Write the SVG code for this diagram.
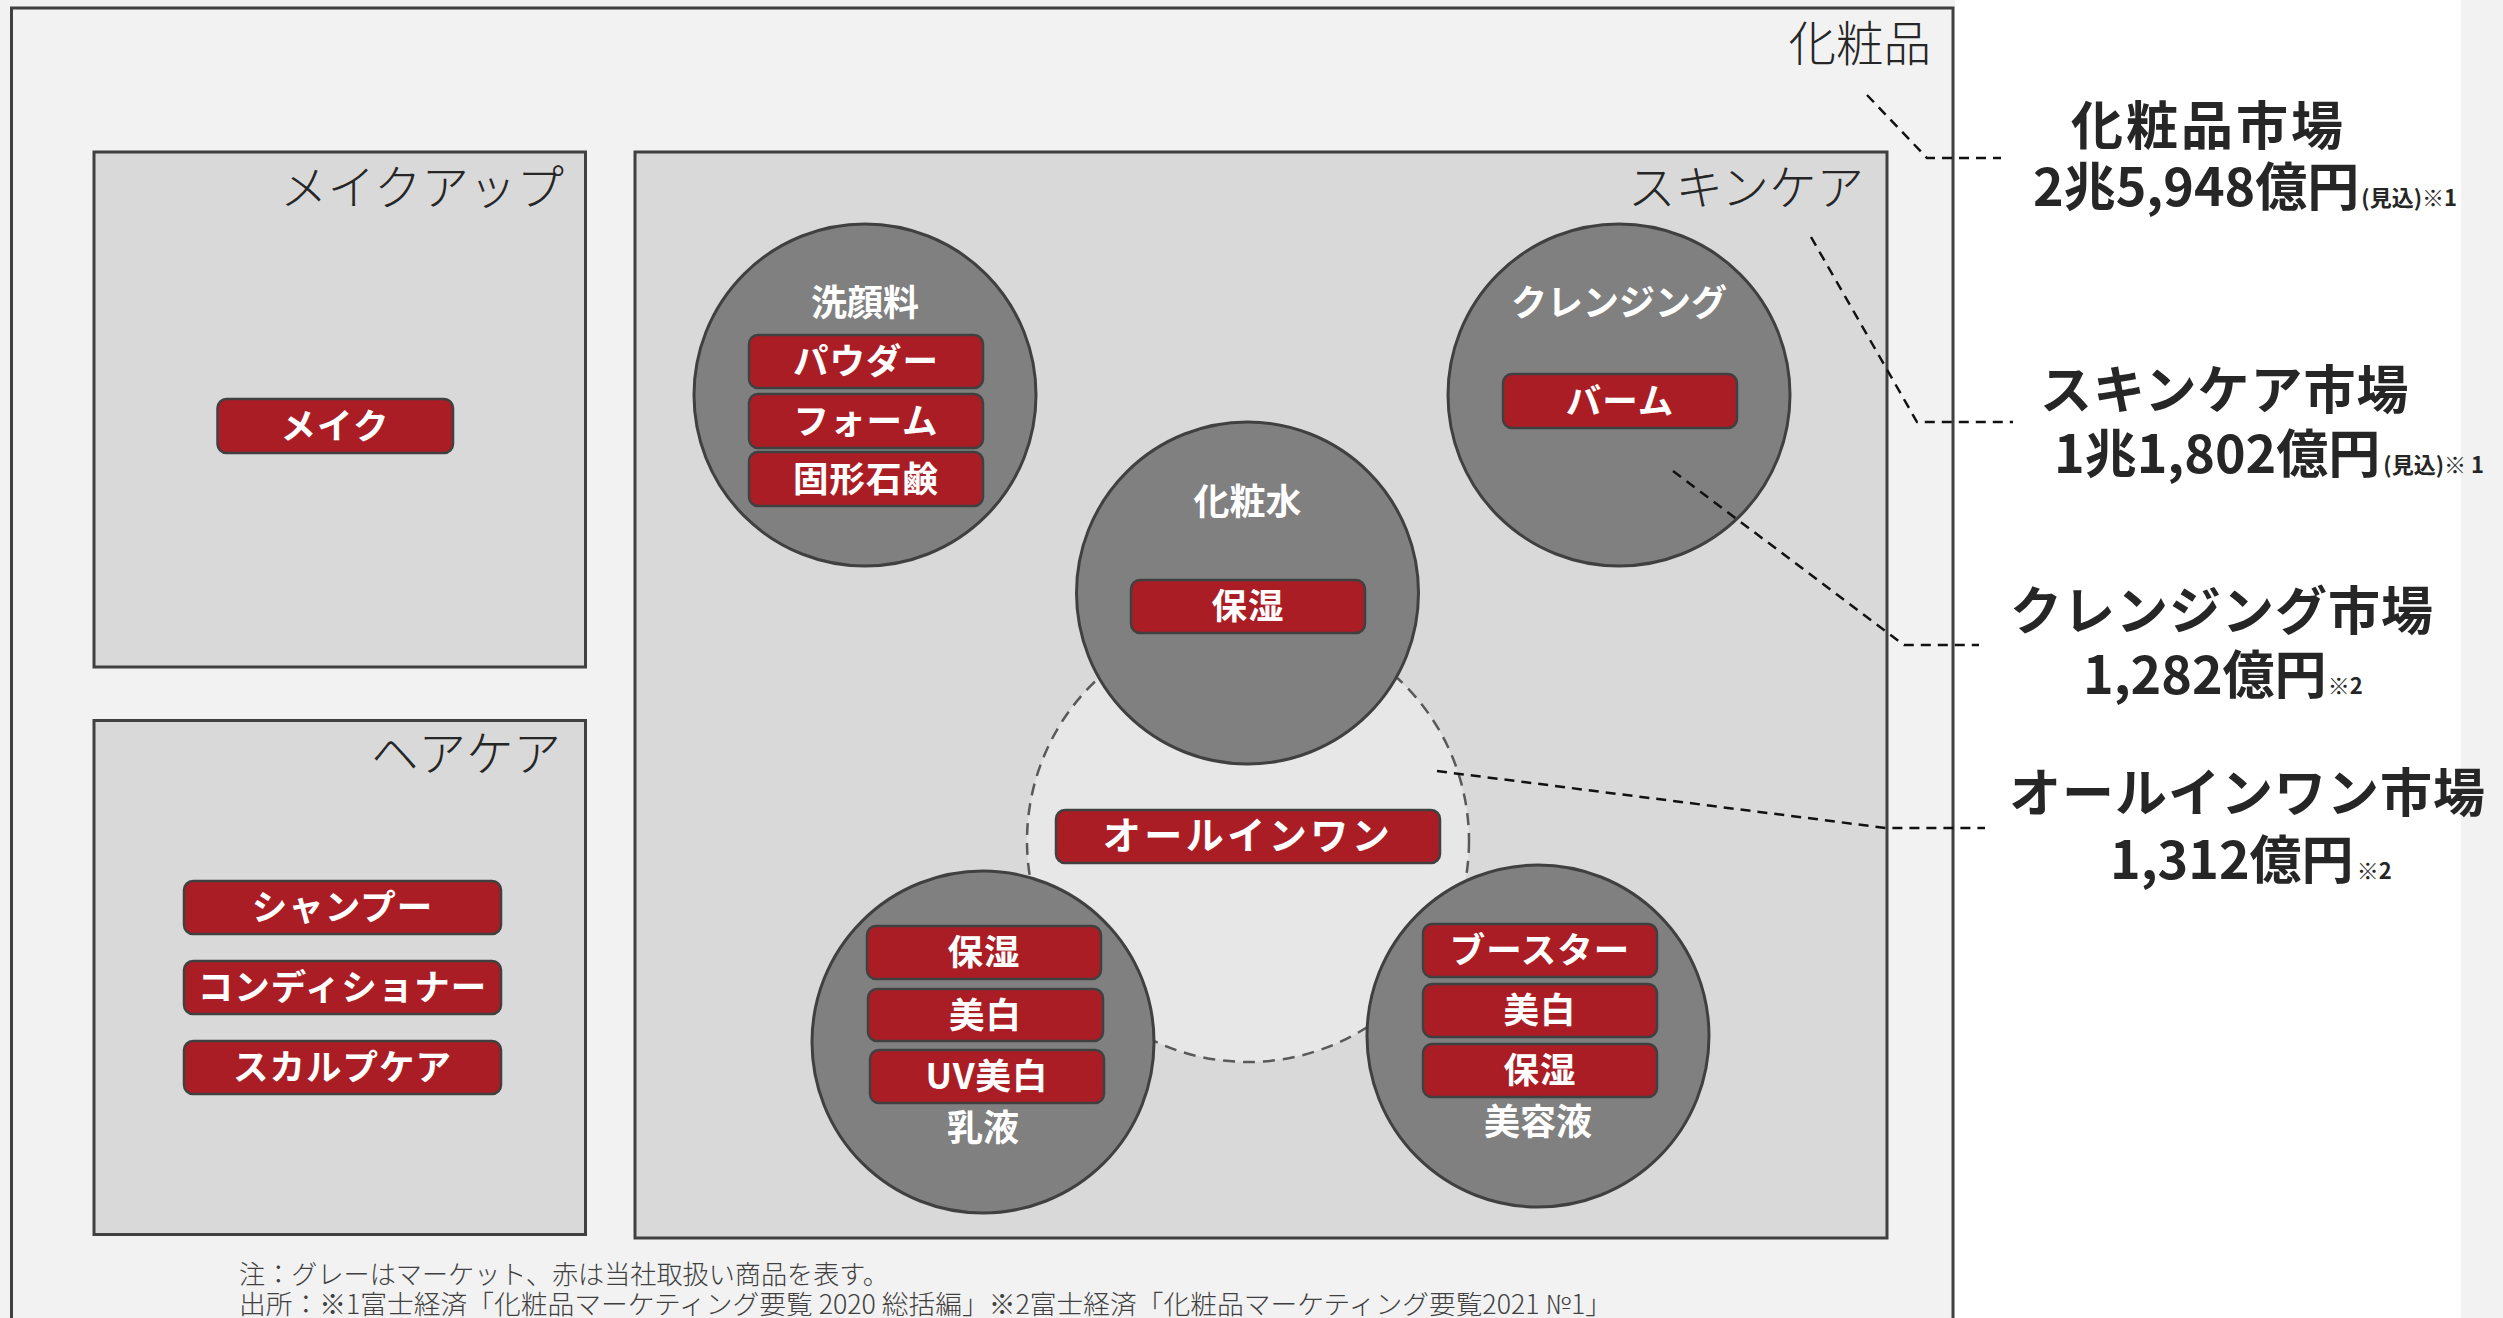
<svg xmlns="http://www.w3.org/2000/svg" width="2503" height="1318" viewBox="0 0 2503 1318">
<defs>
<style>
.bg{fill:#f2f2f2}
.box{fill:#d9d9d9;stroke:#404040;stroke-width:3}
.outer{fill:#f2f2f2;stroke:#404040;stroke-width:3}
.ell{fill:#808080;stroke:#404040;stroke-width:3}
.btn{fill:#ab1d25;stroke:#404040;stroke-width:2.5}
.title{font-family:"Noto Sans CJK JP","Noto Sans",sans-serif;font-weight:300;font-size:47.5px;fill:#262626;text-anchor:end}
.clabel{font-family:"Noto Sans CJK JP","Noto Sans",sans-serif;font-weight:700;font-size:36px;fill:#ffffff;text-anchor:middle}
.bt{font-family:"Noto Sans CJK JP","Noto Sans",sans-serif;font-weight:700;font-size:35.5px;letter-spacing:1px;fill:#ffffff;text-anchor:middle}
.mk{font-family:"Noto Sans CJK JP","Noto Sans",sans-serif;font-weight:700;font-size:52px;fill:#262626}
.hd{letter-spacing:1px}
.sm{font-size:22px}
.note{font-family:"Noto Sans CJK JP","Noto Sans",sans-serif;font-weight:300;font-size:26.5px;fill:#404040}
.conn{fill:none;stroke:#111111;stroke-width:2.5;stroke-dasharray:10 7}
</style>
</defs>
<rect class="bg" x="0" y="0" width="2503" height="1318"/>
<rect x="1955" y="0" width="506" height="1318" fill="#ffffff"/>

<g id="cosmetics">
<rect class="outer" x="11.5" y="8" width="1941.5" height="1330"/>
<text class="title" x="1931" y="61">化粧品</text>
</g>

<g id="makeup">
<rect class="box" x="94" y="152" width="491.5" height="515"/>
<text class="title" x="564" y="205">メイクアップ</text>
<rect class="btn" x="217.5" y="399" width="235.5" height="54" rx="9"/>
<text class="bt" x="335" y="438.5">メイク</text>
</g>

<g id="haircare">
<rect class="box" x="94" y="720.5" width="491.5" height="514"/>
<text class="title" x="561" y="771">ヘアケア</text>
<rect class="btn" x="184" y="881" width="317" height="53" rx="9"/>
<text class="bt" x="342.5" y="920">シャンプー</text>
<rect class="btn" x="184" y="961" width="317" height="53" rx="9"/>
<text class="bt" x="342.5" y="1000">コンディショナー</text>
<rect class="btn" x="184" y="1041" width="317" height="53" rx="9"/>
<text class="bt" x="342.5" y="1080">スカルプケア</text>
</g>

<g id="skincare">
<rect class="box" x="635" y="152" width="1252" height="1086"/>
<text class="title" x="1864" y="205">スキンケア</text>
</g>

<g id="allinone">
<circle cx="1248" cy="841" r="221" fill="#e7e7e7" stroke="#595959" stroke-width="2.5" stroke-dasharray="12 8"/>
<rect class="btn" x="1056" y="810" width="384" height="53" rx="9"/>
<text class="bt" x="1248" y="849" style="font-size:38px;letter-spacing:3.5px">オールインワン</text>
</g>

<g id="facewash">
<ellipse class="ell" cx="865" cy="395" rx="171" ry="171"/>
<text class="clabel" x="865" y="316">洗顔料</text>
<rect class="btn" x="749" y="335" width="234" height="53" rx="9"/>
<text class="bt" x="866" y="374">パウダー</text>
<rect class="btn" x="749" y="394" width="234" height="54" rx="9"/>
<text class="bt" x="866" y="433.5">フォーム</text>
<rect class="btn" x="749" y="452" width="234" height="54" rx="9"/>
<text class="bt" x="866" y="491.5">固形石鹸</text>
</g>

<g id="cleansing">
<ellipse class="ell" cx="1619" cy="395" rx="171" ry="171"/>
<text class="clabel" x="1619" y="316">クレンジング</text>
<rect class="btn" x="1503" y="374" width="234" height="54" rx="9"/>
<text class="bt" x="1620" y="413.5">バーム</text>
</g>

<g id="lotion">
<ellipse class="ell" cx="1247.5" cy="593" rx="171" ry="171"/>
<text class="clabel" x="1247.5" y="515">化粧水</text>
<rect class="btn" x="1131" y="580" width="234" height="53" rx="9"/>
<text class="bt" x="1248" y="619">保湿</text>
</g>

<g id="emulsion">
<ellipse class="ell" cx="983" cy="1042" rx="171" ry="171"/>
<rect class="btn" x="867" y="926" width="234" height="53" rx="9"/>
<text class="bt" x="984" y="965">保湿</text>
<rect class="btn" x="868" y="989" width="235" height="52" rx="9"/>
<text class="bt" x="985.5" y="1027.5">美白</text>
<rect class="btn" x="870" y="1050" width="234" height="53" rx="9"/>
<text class="bt" x="987" y="1089">UV美白</text>
<text class="clabel" x="983" y="1141">乳液</text>
</g>

<g id="serum">
<ellipse class="ell" cx="1538" cy="1036" rx="171" ry="171"/>
<rect class="btn" x="1423" y="924" width="234" height="53" rx="9"/>
<text class="bt" x="1540" y="963">ブースター</text>
<rect class="btn" x="1423" y="984" width="234" height="53" rx="9"/>
<text class="bt" x="1540" y="1023">美白</text>
<rect class="btn" x="1423" y="1044" width="234" height="53" rx="9"/>
<text class="bt" x="1540" y="1083">保湿</text>
<text class="clabel" x="1538" y="1135">美容液</text>
</g>

<g id="connectors">
<polyline class="conn" points="1867,95 1927,158 2001,158"/>
<polyline class="conn" points="1811,237 1917,422 2013,422"/>
<polyline class="conn" points="1673,471 1904,645 1979,645"/>
<polyline class="conn" points="1437,771 1886,828 1985,828"/>
</g>

<g id="market-cosmetics">
<text class="mk" x="2071" y="145" style="letter-spacing:3px">化粧品市場</text>
<text class="mk" x="2033" y="206">2兆5,948億円<tspan class="sm" dx="2">(見込)※1</tspan></text>
</g>
<g id="market-skincare">
<text class="mk hd" x="2040" y="409">スキンケア市場</text>
<text class="mk" x="2054" y="473">1兆1,802億円<tspan class="sm" dx="3">(見込)※ 1</tspan></text>
</g>
<g id="market-cleansing">
<text class="mk hd" x="2010" y="630">クレンジング市場</text>
<text class="mk" x="2083" y="694">1,282億円<tspan class="sm" dx="1">※2</tspan></text>
</g>
<g id="market-allinone">
<text class="mk hd" x="2009" y="812">オールインワン市場</text>
<text class="mk" x="2110" y="879">1,312億円<tspan class="sm" dx="3">※2</tspan></text>
</g>

<g id="notes">
<text class="note" x="239" y="1284" textLength="650" lengthAdjust="spacingAndGlyphs">注：グレーはマーケット、赤は当社取扱い商品を表す。</text>
<text class="note" x="239" y="1314" textLength="1373" lengthAdjust="spacingAndGlyphs">出所：※1富士経済「化粧品マーケティング要覧 2020 総括編」※2富士経済「化粧品マーケティング要覧2021 №1」</text>
</g>
</svg>
